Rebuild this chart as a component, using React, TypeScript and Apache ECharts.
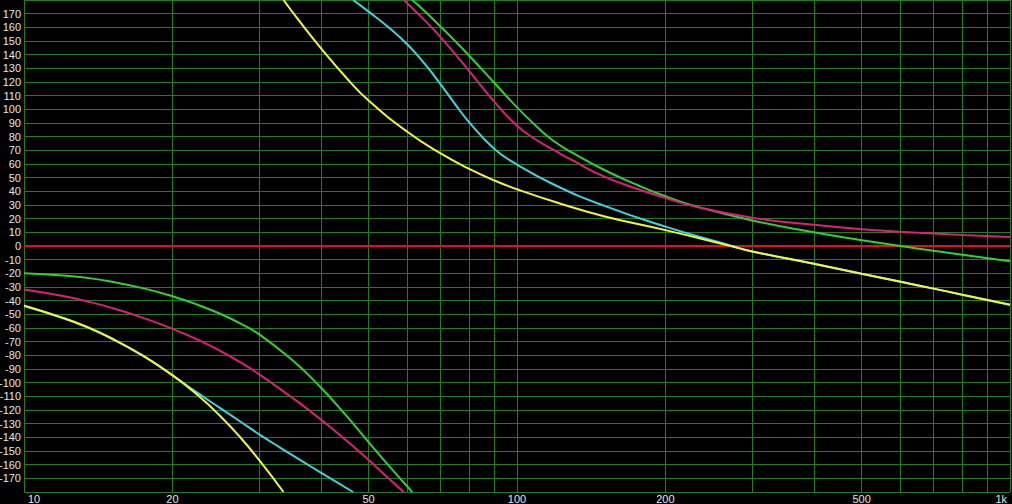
import React, { useEffect, useRef } from 'react'
import * as echarts from 'echarts'

type Pt = [number, number]

// phase curves as [Hz, degrees].
// every curve wraps from -180 to +180, so it is kept as a lower and an upper branch
const yellowLow: Pt[] = [
  [10, -43.5], [12, -52.6], [13.4, -59.1], [15, -67.2], [17.5, -80.6], [20, -94.5],
  [22.5, -109.1], [25, -124.4], [27.5, -140.3], [30, -156.7], [33.6, -180],
]
const yellowHigh: Pt[] = [
  [33.6, 180], [36, 165.6], [40, 144.8], [45, 123.3], [50, 106.4], [60, 83.4], [70, 67.7],
  [80, 56.4], [90, 47.9], [100, 41.5], [120, 32], [150, 21.8], [200, 11.6], [270, 0.2],
  [300, -4], [400, -13], [500, -20.3], [600, -26.2], [700, -31.2], [800, -35.6], [1000, -43],
]

const cyanLow: Pt[] = [
  [10, -44], [12, -52.9], [13.4, -59.4], [15, -67.5], [17.5, -80.8], [20, -94.7],
  [22.5, -107.5], [25, -118.6], [27.5, -128.6], [30, -137.8], [33, -147.3], [36.3, -156.5],
  [40, -165.8], [46.5, -180],
]
const cyanHigh: Pt[] = [
  [46.5, 180], [50, 171.5], [55, 159.7], [60, 147.2], [65, 133.3], [70, 118.3], [75, 103.5],
  [80, 90.5], [90, 71], [100, 59.6], [118.7, 45], [150, 29.5], [200, 14.2], [273, 0],
  [300, -4], [400, -13], [500, -20.3], [600, -26.2], [700, -31.2], [800, -35.6], [1000, -43],
]

const magentaLow: Pt[] = [
  [10, -31.8], [12, -36.6], [13.4, -40.4], [15, -45.1], [17.5, -52.8], [20, -60.6],
  [22.5, -68.5], [25, -76.7], [27.5, -85.2], [30, -93.9], [35, -111], [40, -126.9],
  [45, -142.2], [50, -156.6], [55, -170.3], [58.9, -180],
]
const magentaHigh: Pt[] = [
  [58.9, 180], [65, 165.1], [70, 152.7], [75, 140.2], [80, 127.9], [90, 105.4], [100, 88],
  [110, 77.2], [118.7, 70.3], [130, 62.4], [150, 50.9], [175, 41.9], [200, 35.2], [230, 28.8],
  [300, 20.7], [400, 15.5], [500, 12.3], [600, 10.4], [700, 9.1], [800, 8.1], [1000, 6.5],
]

const greenLow: Pt[] = [
  [10, -20], [12, -21.6], [13.4, -23.3], [15, -26], [17.5, -31], [20, -36.8],
  [22.5, -43], [25, -49.6], [27.5, -56.8], [30, -64.7], [35, -83.5], [40, -103.5],
  [45, -124], [50, -143.5], [55, -160.9], [61.3, -180],
]
const greenHigh: Pt[] = [
  [61.3, 180], [65, 171.8], [70, 160.5], [75, 149.7], [80, 139.2], [90, 119.3], [100, 101.4],
  [110, 86.9], [118.7, 76.8], [130, 67.9], [150, 55.8], [175, 44.8], [200, 36.4], [230, 29.1],
  [300, 18.7], [400, 10], [500, 4.2], [600, 0], [700, -3.5], [800, -6.4], [1000, -11.1],
]

const zeroLine: Pt[] = [[10, 0], [1000, 0]]

// vertical grid and the frequency labels under it
const gridFreqs = [10, 20, 30, 40, 50, 60, 70, 80, 90, 100, 200, 300, 400, 500, 600, 700, 800, 900, 1000]
const labelFreqs = [10, 20, 50, 100, 200, 500, 1000]
const freqLabels = ['10', '20', '50', '100', '200', '500', '1k']

const GRID = '#267a26'
const TEXT = '#e6e6e6'
const FONT = '"Liberation Sans", Arial, sans-serif'

const curves = [
  { name: 'cyan', color: '#3fd4de', low: cyanLow, high: cyanHigh },
  { name: 'green', color: '#34d02f', low: greenLow, high: greenHigh },
  { name: 'magenta', color: '#dc1f78', low: magentaLow, high: magentaHigh },
  { name: 'yellow', color: '#f4f43e', low: yellowLow, high: yellowHigh },
]

const curveSeries = (name: string, color: string, data: Pt[], z: number) => ({
  name,
  type: 'line',
  data,
  color,
  symbol: 'none',
  showSymbol: false,
  smooth: 0.5,
  silent: true,
  z,
  lineStyle: { color, width: 2 },
})

const App: React.FC = () => {
  const chartRef = useRef<HTMLDivElement>(null)

  useEffect(() => {
    if (!chartRef.current) return
    const chart = echarts.init(chartRef.current, null, { renderer: 'svg' })

    const gridLine = { color: GRID, width: 1, type: 'solid' }
    const series: any[] = [
      {
        name: 'zero',
        type: 'line',
        data: zeroLine,
        color: GRID,
        symbol: 'none',
        silent: true,
        z: 2,
        lineStyle: { color: '#e3101c', width: 2 },
        // the vertical grid lines of the log axis, with the frequency labels at their foot
        markLine: {
          silent: true,
          symbol: 'none',
          z: 1,
          animation: false,
          lineStyle: gridLine,
          emphasis: { disabled: true },
          data: gridFreqs.map((f) => {
            const i = labelFreqs.indexOf(f)
            return {
              xAxis: f,
              lineStyle: gridLine,
              label: {
                show: i >= 0,
                position: 'start',
                formatter: i >= 0 ? freqLabels[i] : '',
                color: TEXT,
                fontSize: 11,
                fontFamily: FONT,
                distance: 1,
                align: f === 10 ? 'left' : f === 1000 ? 'right' : 'center',
                padding: f === 10 ? [0, 0, 0, 4] : f === 1000 ? [0, 3, 0, 0] : 0,
              },
            }
          }),
        },
      },
    ]
    curves.forEach((c, k) => {
      series.push(curveSeries(c.name, c.color, c.low, 3 + k))
      series.push(curveSeries(c.name, c.color, c.high, 3 + k))
    })

    chart.setOption({
      animation: false,
      backgroundColor: '#000000',
      grid: { left: 24, right: 2, top: 0, bottom: 12, containLabel: false, outerBoundsMode: 'none' },
      xAxis: {
        type: 'log',
        logBase: 10,
        min: 10,
        max: 1000,
        axisLine: { show: false },
        axisTick: { show: false },
        axisLabel: { show: false },
        splitLine: { show: false },
      },
      yAxis: {
        type: 'value',
        min: -180,
        max: 180,
        interval: 10,
        axisLine: { show: false },
        axisTick: { show: false },
        axisLabel: {
          color: TEXT,
          fontSize: 11,
          fontFamily: FONT,
          margin: 3,
          showMinLabel: false,
          showMaxLabel: false,
          formatter: (v: number) => (Math.abs(v) >= 180 ? '' : String(v)),
        },
        splitLine: { lineStyle: { color: GRID, width: 1 } },
      },
      series,
    })

    return () => {
      chart.dispose()
    }
  }, [])

  return (
    <div
      ref={chartRef}
      style={{ position: 'fixed', left: 0, top: 0, width: 1012, height: 504, background: '#000' }}
    />
  )
}

export default App
